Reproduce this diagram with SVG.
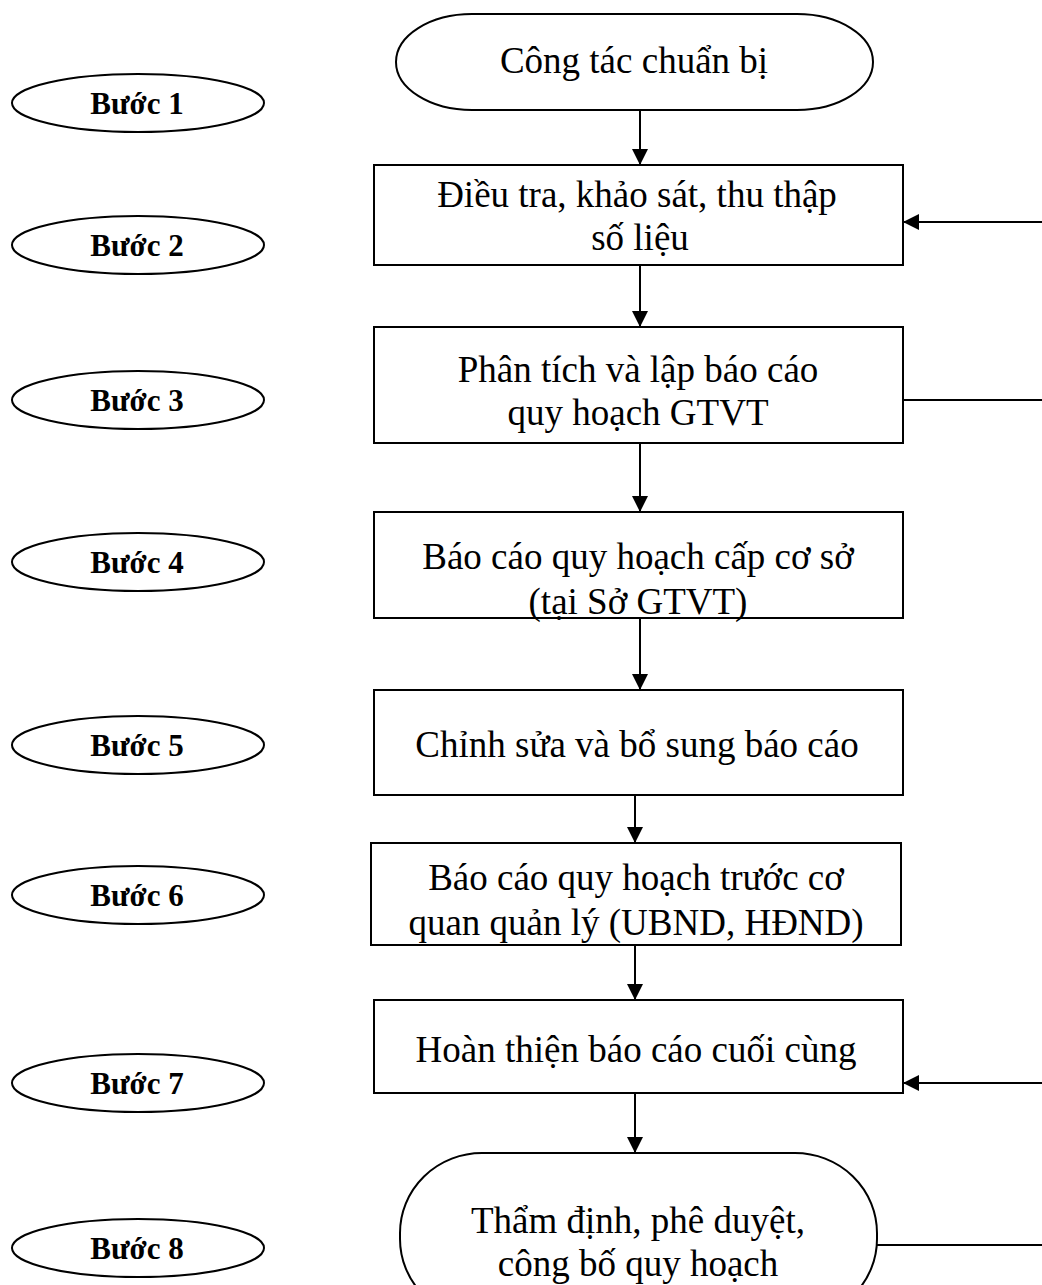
<svg xmlns="http://www.w3.org/2000/svg" width="1042" height="1285" viewBox="0 0 1042 1285">
<style>
.n{fill:#fff;stroke:#000;stroke-width:2}
.t{font-family:"Liberation Serif","Times New Roman",serif;font-size:37px;text-anchor:middle;fill:#000}
.b{font-family:"Liberation Serif","Times New Roman",serif;font-size:31px;font-weight:bold;text-anchor:middle;fill:#000}
.c{stroke:#000;stroke-width:2;fill:none}
</style>
<defs>
<marker id="ah" viewBox="0 0 10 10" refX="10" refY="5" markerWidth="16" markerHeight="16" markerUnits="userSpaceOnUse" orient="auto"><path d="M0,0 L10,5 L0,10 z" fill="#000"/></marker>
</defs>
<g id="steps">
<g id="b1"><ellipse class="n" cx="138" cy="103" rx="126" ry="29"/><text class="b" x="137" y="114">Bước 1</text></g>
<g id="b2"><ellipse class="n" cx="138" cy="245" rx="126" ry="29"/><text class="b" x="137" y="256">Bước 2</text></g>
<g id="b3"><ellipse class="n" cx="138" cy="400" rx="126" ry="29"/><text class="b" x="137" y="411">Bước 3</text></g>
<g id="b4"><ellipse class="n" cx="138" cy="562" rx="126" ry="29"/><text class="b" x="137" y="573">Bước 4</text></g>
<g id="b5"><ellipse class="n" cx="138" cy="745" rx="126" ry="29"/><text class="b" x="137" y="756">Bước 5</text></g>
<g id="b6"><ellipse class="n" cx="138" cy="895" rx="126" ry="29"/><text class="b" x="137" y="906">Bước 6</text></g>
<g id="b7"><ellipse class="n" cx="138" cy="1083" rx="126" ry="29"/><text class="b" x="137" y="1094">Bước 7</text></g>
<g id="b8"><ellipse class="n" cx="138" cy="1248" rx="126" ry="29"/><text class="b" x="137" y="1259">Bước 8</text></g>
</g>
<g id="connectors">
<line class="c" x1="640" y1="110" x2="640" y2="165" marker-end="url(#ah)"/>
<line class="c" x1="640" y1="265" x2="640" y2="327" marker-end="url(#ah)"/>
<line class="c" x1="640" y1="443" x2="640" y2="512" marker-end="url(#ah)"/>
<line class="c" x1="640" y1="618" x2="640" y2="690" marker-end="url(#ah)"/>
<line class="c" x1="635" y1="795" x2="635" y2="843" marker-end="url(#ah)"/>
<line class="c" x1="635" y1="945" x2="635" y2="1000" marker-end="url(#ah)"/>
<line class="c" x1="635" y1="1093" x2="635" y2="1153" marker-end="url(#ah)"/>
<line class="c" x1="1042" y1="222" x2="903" y2="222" marker-end="url(#ah)"/>
<line class="c" x1="903" y1="400" x2="1042" y2="400"/>
<line class="c" x1="1042" y1="1083" x2="903" y2="1083" marker-end="url(#ah)"/>
<line class="c" x1="877" y1="1245" x2="1042" y2="1245"/>
</g>
<g id="n1"><rect class="n" x="396" y="14" width="477" height="96" rx="76" ry="48"/><text class="t" x="634" y="73">Công tác chuẩn bị</text></g>
<g id="n2"><rect class="n" x="374" y="165" width="529" height="100"/><text class="t" x="637" y="207">Điều tra, khảo sát, thu thập</text><text class="t" x="640" y="250">số liệu</text></g>
<g id="n3"><rect class="n" x="374" y="327" width="529" height="116"/><text class="t" x="638" y="382">Phân tích và lập báo cáo</text><text class="t" x="638" y="425">quy hoạch GTVT</text></g>
<g id="n4"><rect class="n" x="374" y="512" width="529" height="106"/><text class="t" x="638" y="569">Báo cáo quy hoạch cấp cơ sở</text><text class="t" x="638" y="614">(tại Sở GTVT)</text></g>
<g id="n5"><rect class="n" x="374" y="690" width="529" height="105"/><text class="t" x="637" y="757">Chỉnh sửa và bổ sung báo cáo</text></g>
<g id="n6"><rect class="n" x="371" y="843" width="530" height="102"/><text class="t" x="636" y="890">Báo cáo quy hoạch trước cơ</text><text class="t" x="636" y="935">quan quản lý (UBND, HĐND)</text></g>
<g id="n7"><rect class="n" x="374" y="1000" width="529" height="93"/><text class="t" x="636" y="1062">Hoàn thiện báo cáo cuối cùng</text></g>
<g id="n8"><rect class="n" x="400" y="1153" width="477" height="166" rx="82" ry="80"/><text class="t" x="638" y="1233">Thẩm định, phê duyệt,</text><text class="t" x="638" y="1276">công bố quy hoạch</text></g>
</svg>
